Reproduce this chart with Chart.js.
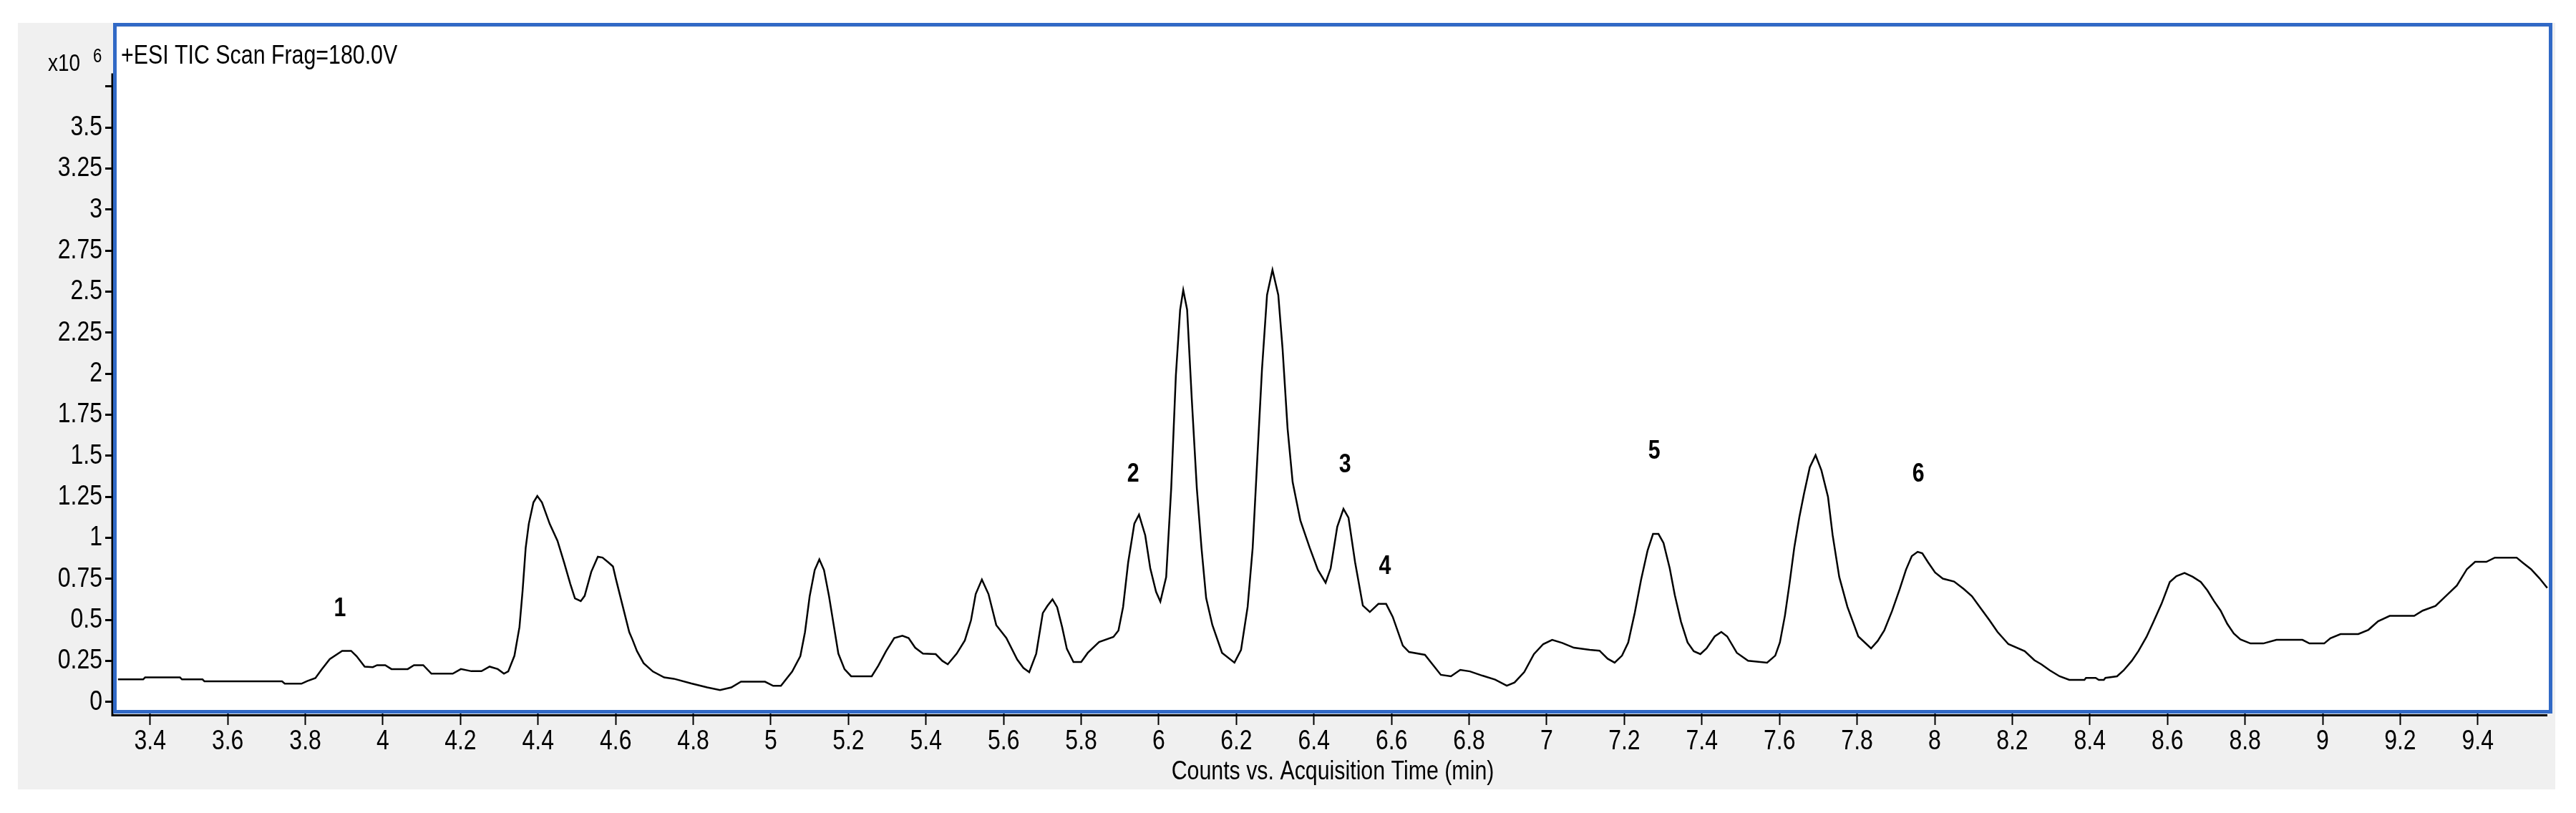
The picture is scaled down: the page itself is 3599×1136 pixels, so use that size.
<!DOCTYPE html>
<html>
<head>
<meta charset="utf-8">
<title>TIC Scan</title>
<script src="https://cdn.jsdelivr.net/npm/chart.js@4.4.1/dist/chart.umd.min.js"></script>
<style>
  body { margin: 0; background: #fff; }
  canvas { display: block; }
</style>
</head>
<body>
<canvas id="myChart" width="3599" height="1136"></canvas>
<script>
// retention time (min) and counts (x10^6)
const times = [
  3.317, 3.382, 3.387, 3.477, 3.482, 3.535, 3.540, 3.740, 3.747, 3.790,
  3.805, 3.826, 3.842, 3.863, 3.895, 3.918, 3.932, 3.953, 3.974, 3.985,
  4.006, 4.022, 4.064, 4.080, 4.104, 4.125, 4.180, 4.201, 4.228, 4.254,
  4.275, 4.296, 4.312, 4.323, 4.339, 4.352, 4.360, 4.368, 4.376, 4.388,
  4.398, 4.410, 4.430, 4.450, 4.467, 4.483, 4.495, 4.510, 4.520, 4.537,
  4.554, 4.566, 4.581, 4.593, 4.601, 4.618, 4.635, 4.643, 4.655, 4.672,
  4.696, 4.725, 4.750, 4.795, 4.836, 4.869, 4.898, 4.923, 4.985, 5.006,
  5.026, 5.055, 5.076, 5.088, 5.100, 5.113, 5.125, 5.137, 5.150, 5.162,
  5.174, 5.190, 5.207, 5.260, 5.277, 5.297, 5.318, 5.339, 5.355, 5.372,
  5.392, 5.425, 5.442, 5.456, 5.479, 5.500, 5.516, 5.528, 5.544, 5.561,
  5.581, 5.607, 5.635, 5.651, 5.666, 5.684, 5.701, 5.713, 5.726, 5.738,
  5.751, 5.763, 5.780, 5.800, 5.817, 5.846, 5.883, 5.896, 5.908, 5.921,
  5.937, 5.949, 5.965, 5.978, 5.993, 6.004, 6.019, 6.032, 6.044, 6.055,
  6.063, 6.073, 6.085, 6.098, 6.110, 6.122, 6.138, 6.163, 6.195, 6.212,
  6.229, 6.242, 6.254, 6.266, 6.279, 6.293, 6.308, 6.319, 6.332, 6.345,
  6.365, 6.389, 6.410, 6.430, 6.443, 6.460, 6.476, 6.489, 6.506, 6.526,
  6.544, 6.566, 6.586, 6.603, 6.629, 6.645, 6.686, 6.727, 6.753, 6.777,
  6.802, 6.834, 6.867, 6.897, 6.917, 6.942, 6.967, 6.991, 7.014, 7.040,
  7.070, 7.111, 7.136, 7.157, 7.175, 7.194, 7.210, 7.227, 7.243, 7.260,
  7.274, 7.288, 7.301, 7.317, 7.330, 7.346, 7.363, 7.379, 7.396, 7.412,
  7.433, 7.450, 7.465, 7.490, 7.519, 7.568, 7.589, 7.601, 7.614, 7.626,
  7.638, 7.651, 7.663, 7.678, 7.693, 7.708, 7.725, 7.737, 7.754, 7.775,
  7.803, 7.836, 7.853, 7.870, 7.890, 7.910, 7.926, 7.941, 7.956, 7.968,
  7.983, 8.001, 8.021, 8.050, 8.075, 8.096, 8.116, 8.141, 8.162, 8.190,
  8.232, 8.257, 8.275, 8.297, 8.322, 8.347, 8.386, 8.390, 8.415, 8.423,
  8.436, 8.440, 8.470, 8.487, 8.508, 8.525, 8.546, 8.563, 8.585, 8.606,
  8.623, 8.644, 8.665, 8.686, 8.703, 8.720, 8.737, 8.754, 8.771, 8.788,
  8.814, 8.847, 8.881, 8.948, 8.966, 9.004, 9.020, 9.046, 9.092, 9.118,
  9.143, 9.173, 9.236, 9.258, 9.291, 9.320, 9.346, 9.372, 9.393, 9.422,
  9.444, 9.500, 9.517, 9.537, 9.559, 9.579
];

const counts = [
  0.138, 0.138, 0.150, 0.150, 0.138, 0.138, 0.126, 0.126, 0.112, 0.112,
  0.128, 0.146, 0.198, 0.262, 0.312, 0.312, 0.280, 0.216, 0.213, 0.225,
  0.225, 0.201, 0.201, 0.225, 0.225, 0.173, 0.173, 0.201, 0.188, 0.188,
  0.216, 0.201, 0.173, 0.187, 0.282, 0.457, 0.676, 0.939, 1.085, 1.216,
  1.255, 1.216, 1.085, 0.982, 0.851, 0.720, 0.632, 0.615, 0.647, 0.793,
  0.885, 0.880, 0.851, 0.826, 0.746, 0.586, 0.426, 0.382, 0.310, 0.237,
  0.186, 0.150, 0.142, 0.113, 0.089, 0.073, 0.089, 0.124, 0.124, 0.099,
  0.099, 0.186, 0.280, 0.426, 0.644, 0.804, 0.869, 0.804, 0.644, 0.469,
  0.295, 0.200, 0.157, 0.157, 0.222, 0.310, 0.390, 0.404, 0.390, 0.331,
  0.295, 0.292, 0.251, 0.230, 0.295, 0.375, 0.499, 0.658, 0.746, 0.658,
  0.469, 0.390, 0.259, 0.208, 0.182, 0.295, 0.542, 0.586, 0.626, 0.578,
  0.455, 0.324, 0.244, 0.244, 0.300, 0.366, 0.397, 0.436, 0.580, 0.850,
  1.087, 1.142, 1.016, 0.815, 0.671, 0.612, 0.762, 1.303, 1.990, 2.390,
  2.510, 2.390, 1.846, 1.303, 0.940, 0.634, 0.470, 0.300, 0.240, 0.318,
  0.580, 0.940, 1.486, 2.027, 2.480, 2.633, 2.480, 2.153, 1.665, 1.340,
  1.105, 0.940, 0.806, 0.727, 0.815, 1.068, 1.177, 1.123, 0.851, 0.588,
  0.549, 0.598, 0.598, 0.519, 0.344, 0.305, 0.288, 0.166, 0.157, 0.196,
  0.187, 0.161, 0.137, 0.100, 0.119, 0.183, 0.292, 0.353, 0.379, 0.360,
  0.331, 0.318, 0.313, 0.264, 0.240, 0.283, 0.363, 0.545, 0.743, 0.924,
  1.024, 1.024, 0.969, 0.815, 0.653, 0.490, 0.363, 0.310, 0.292, 0.327,
  0.400, 0.427, 0.400, 0.300, 0.252, 0.240, 0.283, 0.363, 0.527, 0.725,
  0.940, 1.125, 1.268, 1.430, 1.504, 1.412, 1.250, 1.016, 0.762, 0.580,
  0.400, 0.327, 0.372, 0.436, 0.554, 0.689, 0.806, 0.889, 0.915, 0.906,
  0.851, 0.789, 0.752, 0.734, 0.689, 0.645, 0.580, 0.499, 0.427, 0.353,
  0.310, 0.255, 0.230, 0.193, 0.157, 0.135, 0.135, 0.147, 0.147, 0.135,
  0.135, 0.147, 0.157, 0.193, 0.251, 0.310, 0.397, 0.484, 0.600, 0.731,
  0.767, 0.786, 0.763, 0.731, 0.680, 0.615, 0.557, 0.477, 0.418, 0.382,
  0.357, 0.357, 0.379, 0.379, 0.357, 0.357, 0.389, 0.414, 0.414, 0.440,
  0.492, 0.525, 0.525, 0.557, 0.586, 0.651, 0.710, 0.810, 0.854, 0.854,
  0.880, 0.880, 0.847, 0.810, 0.754, 0.695
];

// peak numbers placed above the trace
const peakLabels = ['1', '2', '3', '4', '5', '6'];
const peakX = [3.889, 5.934, 6.480, 6.583, 7.277, 7.958];
const peakY = [0.567, 1.386, 1.443, 0.824, 1.526, 1.386];

const xTickValues = [3.4, 3.6, 3.8, 4, 4.2, 4.4, 4.6, 4.8, 5, 5.2, 5.4, 5.6, 5.8, 6,
  6.2, 6.4, 6.6, 6.8, 7, 7.2, 7.4, 7.6, 7.8, 8, 8.2, 8.4, 8.6, 8.8, 9, 9.2, 9.4];
const xTickLabels = ['3.4', '3.6', '3.8', '4', '4.2', '4.4', '4.6', '4.8', '5', '5.2', '5.4',
  '5.6', '5.8', '6', '6.2', '6.4', '6.6', '6.8', '7', '7.2', '7.4', '7.6', '7.8', '8',
  '8.2', '8.4', '8.6', '8.8', '9', '9.2', '9.4'];
const yTickValues = [0, 0.25, 0.5, 0.75, 1, 1.25, 1.5, 1.75, 2, 2.25, 2.5, 2.75, 3, 3.25, 3.5, 3.75];
const yTickLabels = ['0', '0.25', '0.5', '0.75', '1', '1.25', '1.5', '1.75', '2', '2.25',
  '2.5', '2.75', '3', '3.25', '3.5', ''];

const xTitle = 'Counts vs. Acquisition Time (min)';
const traceName = '+ESI TIC Scan Frag=180.0V';

const FONT = "'Liberation Sans', Arial, sans-serif";
const SQUEEZE = 0.82; // the source text is narrow
const BLUE = '#3169c6';
const PANEL = '#f0f0f0';

// text drawn with a horizontal squeeze so it matches the narrow look
function narrowText(ctx, text, x, y, font, align, baseline) {
  ctx.save();
  ctx.font = font;
  ctx.textAlign = align;
  ctx.textBaseline = baseline;
  ctx.translate(x, y);
  ctx.scale(SQUEEZE, 1);
  ctx.fillText(text, 0, 0);
  ctx.restore();
}

const framePlugin = {
  id: 'frame',
  beforeDraw(chart) {
    const ctx = chart.ctx;
    const a = chart.chartArea;
    ctx.save();
    ctx.fillStyle = '#fff';
    ctx.fillRect(0, 0, chart.width, chart.height);
    ctx.fillStyle = PANEL;
    ctx.fillRect(25, 32, 3545, 1071);
    ctx.fillStyle = '#fff';
    ctx.fillRect(a.left, a.top, a.right - a.left, a.bottom - a.top);
    ctx.restore();
  },
  afterDraw(chart) {
    const ctx = chart.ctx;
    const a = chart.chartArea;
    const x = chart.scales.x;
    const y = chart.scales.y;
    ctx.save();

    // black axis lines
    ctx.strokeStyle = '#000';
    ctx.lineWidth = 3;
    ctx.beginPath();
    ctx.moveTo(a.left - 6, y.getPixelForValue(3.83));
    ctx.lineTo(a.left - 6, a.bottom + 9);
    ctx.moveTo(a.left - 7, a.bottom + 7.5);
    ctx.lineTo(a.right - 2, a.bottom + 7.5);
    ctx.stroke();

    // blue plot frame
    ctx.strokeStyle = BLUE;
    ctx.lineWidth = 5;
    ctx.strokeRect(a.left - 2.5, a.top - 3.5, a.right - a.left + 5, a.bottom - a.top + 6);

    ctx.fillStyle = '#000';

    // tick labels, placed by the scales
    x.ticks.forEach((t, i) => {
      narrowText(ctx, xTickLabels[i], x.getPixelForValue(t.value), a.bottom + 44,
        '39px ' + FONT, 'center', 'middle');
    });
    y.ticks.forEach((t, i) => {
      narrowText(ctx, yTickLabels[i], a.left - 20, y.getPixelForValue(t.value),
        '39px ' + FONT, 'right', 'middle');
    });

    // axis title
    narrowText(ctx, xTitle, (a.left + a.right) / 2, 1079, '37px ' + FONT, 'center', 'middle');

    // multiplier and trace name
    narrowText(ctx, 'x10', 67, 99, '34px ' + FONT, 'left', 'alphabetic');
    narrowText(ctx, '6', 130, 87, '27px ' + FONT, 'left', 'alphabetic');
    narrowText(ctx, traceName, 169, 89, '37px ' + FONT, 'left', 'alphabetic');

    // peak numbers
    peakLabels.forEach((lab, i) => {
      narrowText(ctx, lab, x.getPixelForValue(peakX[i]), y.getPixelForValue(peakY[i]),
        'bold 37px ' + FONT, 'center', 'middle');
    });
    ctx.restore();
  }
};

const config = {
  type: 'line',
  data: {
    datasets: [{
      data: times.map((t, i) => ({ x: t, y: counts[i] })),
      borderColor: '#000',
      borderWidth: 2.5,
      pointRadius: 0,
      tension: 0,
      fill: false
    }]
  },
  options: {
    responsive: false,
    animation: false,
    layout: { padding: { left: 0, top: 38, right: 38, bottom: 0 } },
    plugins: {
      legend: { display: false },
      tooltip: { enabled: false }
    },
    scales: {
      x: {
        type: 'linear',
        min: 3.3137,
        max: 9.583,
        afterBuildTicks: (scale) => { scale.ticks = xTickValues.map((v) => ({ value: v })); },
        afterFit: (scale) => { scale.height = 144; },
        border: { display: false },
        grid: { drawOnChartArea: false, drawTicks: true, tickLength: 21, tickWidth: 2, color: '#000', tickColor: '#000' },
        ticks: { display: false, autoSkip: false, maxRotation: 0 }
      },
      y: {
        min: -0.048,
        max: 4.111,
        afterBuildTicks: (scale) => { scale.ticks = yTickValues.map((v) => ({ value: v })); },
        afterFit: (scale) => { scale.width = 163; },
        border: { display: false },
        grid: { drawOnChartArea: false, drawTicks: true, tickLength: 16, tickWidth: 3, color: '#000', tickColor: '#000' },
        ticks: { display: false }
      }
    }
  },
  plugins: [framePlugin]
};

window.onload = () => {
  new Chart(document.getElementById('myChart'), config);
};
</script>
</body>
</html>
